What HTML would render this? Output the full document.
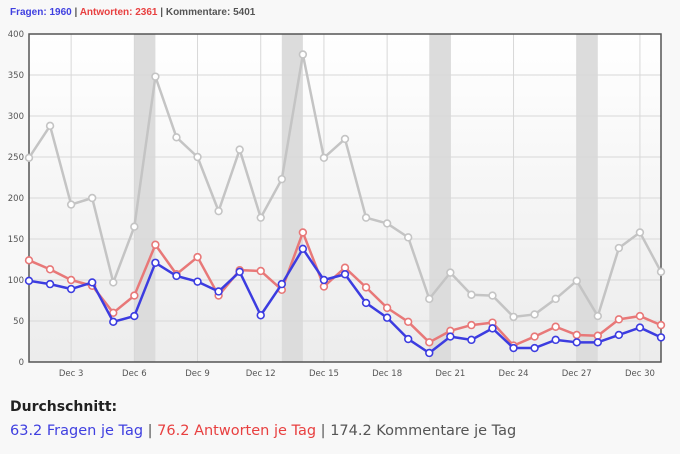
<!DOCTYPE html>
<html><head><meta charset="utf-8"><style>
body{margin:0;background:#f8f8f8;width:680px;height:454px;overflow:hidden;font-family:"DejaVu Sans","Liberation Sans",sans-serif;}
#hdr{position:absolute;left:10px;top:7px;font-size:10px;font-weight:bold;color:#555;font-family:"Liberation Sans",sans-serif;}
#avg1{position:absolute;left:10px;top:399px;font-size:14px;font-weight:bold;color:#222;}
#avg2{position:absolute;left:10px;top:423px;font-size:14.5px;color:#555;}
.b{color:#4040e0}.r{color:#e84040}.g{color:#555}
</style></head><body>
<div id="hdr"><span class="b">Fragen: 1960</span> | <span class="r">Antworten: 2361</span> | <span class="g">Kommentare: 5401</span></div>
<svg id="chart" width="680" height="400" style="position:absolute;left:0;top:0">
<defs><linearGradient id="bg" x1="0" y1="0" x2="0" y2="1"><stop offset="0" stop-color="#ffffff"/><stop offset="1" stop-color="#ececec"/></linearGradient></defs>
</svg>
<div id="avg1">Durchschnitt:</div>
<div id="avg2"><span class="b">63.2 Fragen je Tag</span> | <span class="r">76.2 Antworten je Tag</span> | <span class="g">174.2 Kommentare je Tag</span></div>
<script>
const days=[1,2,3,4,5,6,7,8,9,10,11,12,13,14,15,16,17,18,19,20,21,22,23,24,25,26,27,28,29,30,31];
const kommentare=[249,288,192,200,97,165,348,274,250,184,259,176,223,375,249,272,176,169,152,77,109,82,81,55,58,77,99,56,139,158,110];
const antworten=[124,113,100,93,60,81,143,107,128,81,112,111,88,158,92,115,91,66,49,24,38,45,48,20,31,43,33,32,52,56,45];
const fragen=[99,95,89,97,49,56,121,105,98,86,110,57,95,138,100,107,72,54,28,11,31,27,41,17,17,27,24,24,33,42,30];
const yTicks=[0,50,100,150,200,250,300,350,400];
const xTickDays=[3,6,9,12,15,18,21,24,27,30];
const weekendStarts=[6,13,20,27];
const X0=29,X1=661,Y0=362,Y1=34;
const x=d=>X0+(d-1)*(X1-X0)/30;
const y=v=>Y0-(v/400)*(Y0-Y1);
const svg=document.getElementById('chart');const NS='http://www.w3.org/2000/svg';
function mk(t,a,p){const e=document.createElementNS(NS,t);for(const k in a)e.setAttribute(k,a[k]);(p||svg).appendChild(e);return e;}
const bg=mk('rect',{x:X0,y:Y1,width:X1-X0,height:Y0-Y1,fill:'url(#bg)'});


weekendStarts.forEach(d=>{const r=mk('rect',{x:x(d),y:Y1,width:x(d+1)-x(d),height:Y0-Y1,fill:'#dcdcdc'});

});
yTicks.forEach(v=>{const l=mk('line',{x1:X0,x2:X1,y1:y(v),y2:y(v),stroke:'#d8d8d8','stroke-width':1});


const t=mk('text',{x:X0-5,y:y(v)+3,'text-anchor':'end','font-size':8.5,fill:'#555','font-family':'DejaVu Sans,sans-serif'});t.textContent=v;

});
xTickDays.forEach(d=>{const l=mk('line',{x1:x(d),x2:x(d),y1:Y1,y2:Y0,stroke:'#d8d8d8','stroke-width':1});


const t=mk('text',{x:x(d),y:376,'text-anchor':'middle','font-size':8.5,fill:'#555','font-family':'DejaVu Sans,sans-serif'});t.textContent='Dec '+d;

});
const fr=mk('rect',{x:X0,y:Y1,width:X1-X0,height:Y0-Y1,fill:'none',stroke:'#555','stroke-width':1.5});


function series(vals,col,name){const g=mk('g',{});


mk('polyline',{points:vals.map((v,i)=>x(days[i])+','+y(v)).join(' '),fill:'none',stroke:col,'stroke-width':2.5,'stroke-linejoin':'round'},g);
vals.forEach((v,i)=>{const c=mk('circle',{cx:x(days[i]),cy:y(v),r:3.4,fill:'#fff',stroke:col,'stroke-width':1.6},g);

});}
series(kommentare,'#c4c4c4','kommentare-series');
series(antworten,'#e87878','antworten-series');
series(fragen,'#3c3ce0','fragen-series');
</script>
</body></html>
